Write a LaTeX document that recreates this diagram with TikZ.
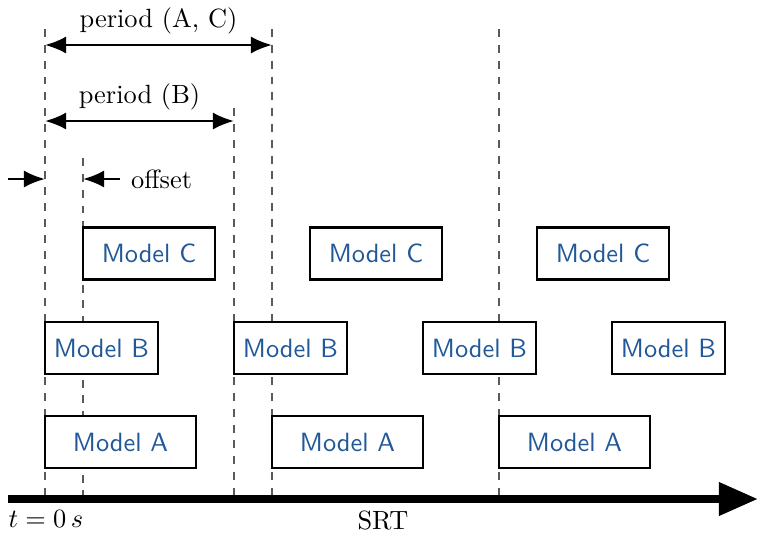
\documentclass[tikz,border=0pt]{standalone}
\usetikzlibrary{arrows.meta}
\definecolor{modelblue}{RGB}{32,88,152}
\definecolor{guidegray}{RGB}{90,90,90}
\begin{document}
\begin{tikzpicture}[x=0.379pt,y=-0.379pt,
  guide/.style={draw=guidegray, dashed, line width=0.5pt},
  span/.style={line width=1pt, {Latex[length=8pt,width=6.5pt]}-{Latex[length=8pt,width=6.5pt]}},
  pointer/.style={line width=1pt, -{Latex[length=8pt,width=6.5pt]}},
  modelbox/.style={draw, thick, fill=white, text=modelblue, font=\sffamily,
    minimum height=19.7pt, inner sep=0pt},
  boxA/.style={modelbox, minimum width=57.2pt},
  boxB/.style={modelbox, minimum width=42.8pt},
  boxC/.style={modelbox, minimum width=50pt}]
\useasboundingbox (0,0) rectangle (758,535);

% guide lines: top and bottom ends
\coordinate (g0t) at (45,29);   \coordinate (g0b) at (45,499);
\coordinate (g1t) at (83,158);  \coordinate (g1b) at (83,499);
\coordinate (g2t) at (234,108); \coordinate (g2b) at (234,499);
\coordinate (g3t) at (272,29);  \coordinate (g3b) at (272,499);
\coordinate (g4t) at (499,29);  \coordinate (g4b) at (499,499);
\draw[guide] (g0t) -- (g0b);
\draw[guide] (g1t) -- (g1b);
\draw[guide] (g2t) -- (g2b);
\draw[guide] (g3t) -- (g3b);
\draw[guide] (g4t) -- (g4b);

% periods
\coordinate (pacL) at (45,45);  \coordinate (pacR) at (272,45);
\draw[span] (pacL) -- (pacR) node[midway, above=0.3pt] (pacLabel) {period (A, C)};
\coordinate (pbL) at (45,121);  \coordinate (pbR) at (234,121);
\draw[span] (pbL) -- (pbR) node[midway, above=0.3pt] (pbLabel) {period (B)};

% offset
\coordinate (offStart) at (8,179);  \coordinate (offA) at (45,179);
\coordinate (offEnd) at (120,179);  \coordinate (offB) at (83,179);
\draw[pointer] (offStart) -- (offA);
\draw[pointer] (offEnd) -- (offB);
\node[right=2pt, inner sep=2pt] (offLabel) at (offEnd) {offset};

% model boxes
\node[boxC] (c1) at (149,253.5) {Model C};
\node[boxC] (c2) at (376,253.5) {Model C};
\node[boxC] (c3) at (603,253.5) {Model C};
\node[boxB] (b1) at (101.5,348) {Model B};
\node[boxB] (b2) at (290.5,348) {Model B};
\node[boxB] (b3) at (479.5,348) {Model B};
\node[boxB] (b4) at (668.5,348) {Model B};
\node[boxA] (a1) at (120.5,442) {Model A};
\node[boxA] (a2) at (347.5,442) {Model A};
\node[boxA] (a3) at (574.5,442) {Model A};

% time axis
\coordinate (axStart) at (8,499);
\coordinate (axEnd) at (758,499);
\draw[line width=3pt, -{Triangle[length=14.8pt,width=12pt]}] (axStart) -- (axEnd)
  node[midway, below=-0.5pt] (srt) {SRT};
\node[below right, inner sep=0pt, yshift=-4pt] (t0) at (axStart) {$t=0\,s$};
\end{tikzpicture}
\end{document}
